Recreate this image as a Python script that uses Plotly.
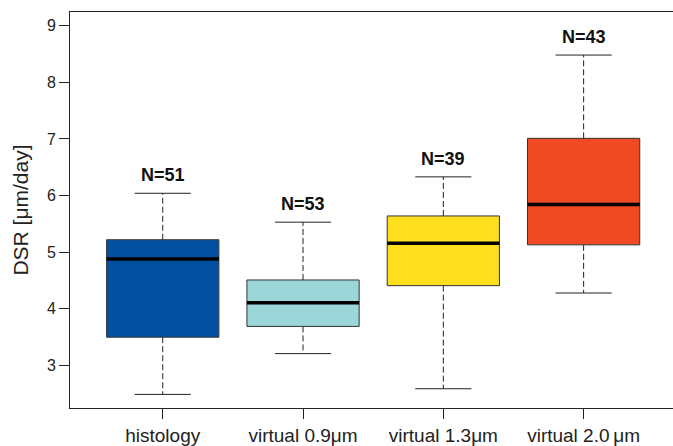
import plotly.graph_objects as go

categories = ["histology", "virtual 0.9μm", "virtual 1.3μm", "virtual 2.0\u2009μm"]
positions = [1, 2, 3, 4]
q1 = [3.50, 3.69, 4.41, 5.13]
median = [4.88, 4.11, 5.16, 5.84]
q3 = [5.22, 4.51, 5.64, 7.01]
lower = [2.49, 3.21, 2.59, 4.28]
upper = [6.04, 5.53, 6.33, 8.48]
counts = [51, 53, 39, 43]
colors = ["#0350A2", "#9BD7D8", "#FDDF1E", "#EF4A24"]

FONT = "Liberation Sans, Arial, sans-serif"
box_w = 0.8
cap_w = 0.4

fig = go.Figure()

# boxes
fig.add_trace(go.Bar(
    x=positions, y=[b - a for a, b in zip(q1, q3)], base=q1, width=box_w,
    marker=dict(color=colors, line=dict(color="#333333", width=1)),
    hoverinfo="skip", showlegend=False))

# whiskers (dashed)
wx, wy = [], []
for p, a, b, lo, hi in zip(positions, q1, q3, lower, upper):
    wx += [p, p, None, p, p, None]
    wy += [b, hi, None, a, lo, None]
fig.add_trace(go.Scatter(x=wx, y=wy, mode="lines",
                         line=dict(color="#222222", width=1, dash="6px,3px"),
                         hoverinfo="skip", showlegend=False))

# caps
cx, cy = [], []
for p, lo, hi in zip(positions, lower, upper):
    cx += [p - cap_w / 2, p + cap_w / 2, None, p - cap_w / 2, p + cap_w / 2, None]
    cy += [hi, hi, None, lo, lo, None]
fig.add_trace(go.Scatter(x=cx, y=cy, mode="lines",
                         line=dict(color="#222222", width=1),
                         hoverinfo="skip", showlegend=False))

# medians
mx, my = [], []
for p, m in zip(positions, median):
    mx += [p - box_w / 2, p + box_w / 2, None]
    my += [m, m, None]
fig.add_trace(go.Scatter(x=mx, y=my, mode="lines",
                         line=dict(color="#000000", width=3.5),
                         hoverinfo="skip", showlegend=False))

for p, hi, n in zip(positions, upper, counts):
    fig.add_annotation(x=p, y=hi, text=f"<b>N={n}</b>", showarrow=False,
                       yanchor="bottom", yshift=6,
                       font=dict(family=FONT, size=18, color="#111111"))

fig.update_layout(
    width=673, height=446,
    margin=dict(l=70, r=0, t=12, b=38),
    paper_bgcolor="white", plot_bgcolor="white",
    font=dict(family=FONT, color="#222222"),
    showlegend=False,
    xaxis=dict(range=[0.339, 4.637], tickvals=positions, ticktext=categories,
               ticks="outside", ticklen=10, tickcolor="#222222", tickwidth=1,
               showline=True, mirror=True, linecolor="#222222", linewidth=1,
               showgrid=False, zeroline=False, automargin=False,
               tickfont=dict(family=FONT, size=19, color="#222222")),
    yaxis=dict(range=[2.25, 9.24], tickvals=[3, 4, 5, 6, 7, 8, 9],
               ticks="outside", ticklen=10, tickcolor="#222222", tickwidth=1,
               showline=True, mirror=False, linecolor="#222222", linewidth=1,
               showgrid=False, zeroline=False, automargin=False,
               tickfont=dict(family=FONT, size=16, color="#222222"),
               title=dict(text="DSR [μm/day]", standoff=12,
                          font=dict(family=FONT, size=21, color="#222222"))),
)

fig.write_html("out.html", config={"displayModeBar": False},
               post_script="document.body.style.margin='0px';")
